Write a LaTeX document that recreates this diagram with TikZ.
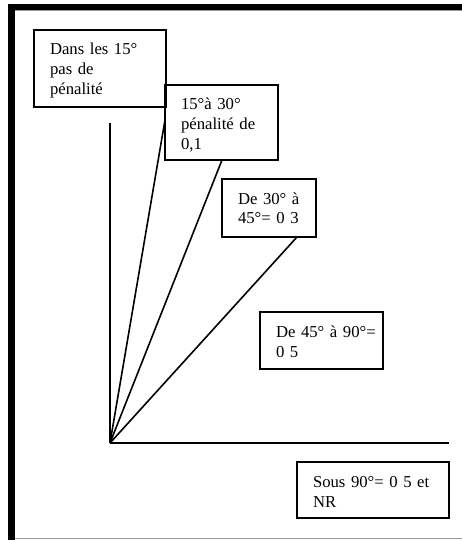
\documentclass[tikz,border=0pt]{standalone}
\usepackage{fontspec}
\setmainfont{Liberation Serif}
\begin{document}
\begin{tikzpicture}[x=1pt,y=-1pt,
  frame/.style={fill=black},
  thinframe/.style={draw=black!40,line width=1pt},
  ray/.style={draw=black,line width=1.6pt},
  box/.style={draw=black,line width=1.6pt,anchor=north west,outer sep=0pt,
    inner xsep=16pt,inner ysep=0pt,align=left,text height=25pt,
    font=\fontsize{16.7}{20}\selectfont}]
\useasboundingbox (0,0) rectangle (462,540);
% frame
\fill[frame] (8,4) rectangle (462,10);
\fill[frame] (8,4) rectangle (15,540);
\draw[thinframe] (15,11) -- (462,11);
\draw[thinframe] (15,538) -- (462,538);
% boxes
\node[box,text width=100pt,text depth=52pt] (b1) at (34,30) {Dans~les~15°\\pas~de\\pénalité};
\node[box,text width=81pt,text depth=50pt] (b2) at (165,85) {15°à~30°\\pénalité~de\\0,1};
\node[box,text width=62pt,text depth=33pt] (b3) at (222,179) {De~30°~à\\45°=~0~3};
\node[box,text width=91pt,text depth=32pt] (b4) at (260,312) {De~45°~à~90°=\\0~5};
\node[box,text width=120pt,text depth=31pt] (b5) at (297,462) {Sous~90°=~0~5~et\\NR};
% connectors
\coordinate (o) at (110,443);
\coordinate (vtop) at (110,123);
\coordinate (hend) at (449,443);
\coordinate (e2) at (b2.west |- 0,120);
\coordinate (e3) at (b2.south -| 222,0);
\coordinate (e4) at (b3.south -| 297,0);
\draw[ray] (o) -- (vtop);
\draw[ray] (o) -- (hend);
\draw[ray] (o) -- (e2);
\draw[ray] (o) -- (e3);
\draw[ray] (o) -- (e4);
\end{tikzpicture}
\end{document}
